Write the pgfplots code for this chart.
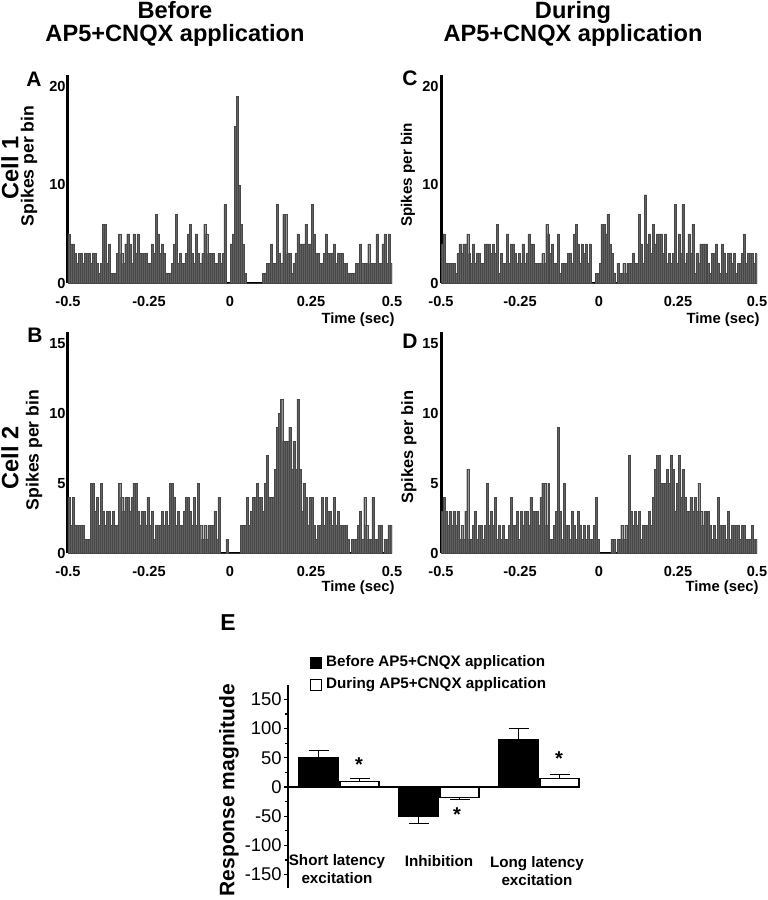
\documentclass[border=0pt]{standalone}
\usepackage{pgfplots}
\pgfplotsset{compat=1.18}
\usepackage{pgfplotstable}
\usepackage{fontspec}
\setmainfont{Liberation Sans}
\newcommand\fsz[1]{\fontsize{#1}{#1}\selectfont}

\pgfplotstableread[row sep=\\]{
y\\
5\\4\\4\\3\\2\\3\\3\\2\\3\\3\\
3\\2\\3\\3\\2\\1\\2\\6\\6\\2\\
4\\1\\1\\1\\3\\5\\3\\2\\4\\5\\
4\\2\\5\\3\\5\\3\\3\\3\\3\\2\\
2\\4\\3\\7\\5\\3\\4\\3\\1\\1\\
1\\2\\4\\7\\2\\3\\2\\2\\3\\5\\
6\\3\\2\\5\\3\\2\\3\\6\\5\\3\\
3\\3\\2\\2\\3\\2\\3\\8\\0\\0\\
4\\5\\16\\19\\10\\6\\4\\1\\0\\0\\
0\\0\\0\\0\\0\\0\\1\\1\\2\\2\\
4\\2\\2\\8\\3\\2\\7\\7\\3\\3\\
1\\2\\3\\5\\4\\4\\4\\6\\4\\4\\
8\\5\\3\\3\\2\\2\\3\\5\\3\\3\\
3\\4\\2\\3\\3\\3\\2\\2\\1\\1\\
1\\1\\2\\2\\4\\2\\2\\2\\4\\2\\
2\\2\\5\\2\\2\\4\\5\\2\\5\\2\\
0\\
}\dataA

\pgfplotstableread[row sep=\\]{
y\\
4\\5\\2\\2\\2\\2\\2\\1\\3\\4\\
3\\4\\4\\5\\3\\2\\4\\2\\3\\3\\
2\\2\\4\\4\\4\\3\\4\\3\\6\\1\\
3\\2\\2\\5\\2\\4\\4\\3\\2\\3\\
2\\4\\2\\3\\5\\4\\4\\2\\2\\2\\
2\\3\\2\\6\\5\\3\\4\\2\\2\\5\\
1\\2\\2\\2\\3\\3\\2\\5\\6\\4\\
2\\4\\3\\4\\2\\4\\0\\0\\1\\1\\
2\\6\\6\\5\\7\\4\\3\\1\\0\\2\\
1\\1\\2\\1\\2\\2\\2\\3\\2\\2\\
7\\4\\2\\9\\4\\5\\3\\6\\4\\5\\
5\\5\\3\\5\\2\\3\\2\\3\\8\\2\\
5\\3\\8\\2\\3\\5\\3\\6\\1\\3\\
2\\4\\4\\4\\4\\2\\1\\3\\3\\4\\
2\\1\\4\\3\\1\\3\\3\\2\\3\\1\\
2\\2\\3\\5\\2\\3\\3\\3\\2\\3\\
0\\
}\dataC

\pgfplotstableread[row sep=\\]{
y\\
4\\2\\4\\2\\2\\2\\2\\2\\1\\1\\
1\\5\\5\\3\\4\\2\\5\\3\\2\\3\\
3\\2\\3\\2\\2\\5\\4\\3\\4\\4\\
3\\4\\5\\5\\3\\2\\3\\3\\2\\4\\
2\\3\\1\\2\\2\\2\\3\\2\\3\\2\\
5\\5\\4\\2\\3\\2\\2\\3\\4\\4\\
3\\2\\4\\2\\5\\2\\1\\2\\1\\2\\
2\\2\\3\\1\\4\\0\\0\\0\\1\\0\\
0\\0\\0\\0\\0\\2\\2\\2\\4\\2\\
3\\4\\4\\5\\4\\4\\3\\5\\7\\4\\
4\\4\\6\\9\\10\\11\\8\\8\\8\\9\\
6\\8\\6\\11\\6\\3\\5\\4\\2\\4\\
4\\2\\1\\2\\2\\4\\2\\4\\3\\3\\
2\\4\\2\\3\\2\\2\\2\\2\\1\\0\\
1\\1\\1\\2\\3\\1\\4\\2\\1\\1\\
4\\1\\1\\2\\2\\0\\1\\1\\2\\2\\
0\\
}\dataB

\pgfplotstableread[row sep=\\]{
y\\
3\\4\\3\\2\\3\\2\\3\\2\\3\\1\\
2\\1\\3\\6\\1\\1\\2\\3\\1\\2\\
2\\1\\2\\5\\2\\3\\2\\4\\1\\2\\
1\\2\\1\\1\\2\\4\\2\\2\\3\\1\\
3\\2\\3\\3\\2\\4\\3\\3\\3\\2\\
4\\5\\5\\2\\5\\1\\1\\2\\3\\9\\
3\\1\\5\\2\\2\\1\\3\\2\\1\\3\\
2\\1\\2\\1\\2\\1\\1\\2\\4\\1\\
0\\0\\0\\0\\0\\0\\1\\1\\0\\1\\
1\\2\\1\\2\\1\\7\\3\\2\\3\\2\\
3\\1\\2\\2\\2\\3\\2\\4\\6\\7\\
7\\5\\5\\5\\6\\5\\7\\6\\3\\5\\
7\\4\\6\\4\\3\\3\\4\\3\\4\\3\\
5\\3\\2\\3\\3\\3\\2\\1\\2\\1\\
4\\2\\2\\2\\1\\3\\1\\2\\2\\2\\
2\\1\\2\\2\\1\\1\\1\\2\\1\\1\\
0\\
}\dataD

\pgfplotstableread{
x y ep em
0 50 13 0
1 -51 0 11
2 82 18 0
}\dataEbefore
\pgfplotstableread{
x y ep em
0 10 4 0
1 -18 0 4
2 15 6 0
}\dataEduring

\pgfplotsset{
  hist/.style={
    scale only axis, anchor=south west,
    xmin=-0.5, xmax=0.5, ymin=0,
    axis x line*=bottom, axis y line*=left,
    axis line style={-},
    x axis line style={line width=0.8pt,-},
    y axis line style={line width=1.5pt,-},
    xtick={-0.5,-0.25,0,0.25,0.5},
    xticklabels={-0.5,-0.25,0,0.25,0.5},
    major tick length=0pt,
    tick label style={font=\bfseries\fsz{7.3}},
    xticklabel style={anchor=base, yshift=-11.5pt},
    yticklabel style={anchor=east, inner xsep=1pt},
  },
  histbar/.style={ybar interval, fill=black!62, draw=black!72, line width=0.15pt},
}

\begin{document}
\begin{tikzpicture}
\path[use as bounding box] (0,0) rectangle (383.5pt,-450pt);

% Panel A
\begin{axis}[hist, at={(34pt,-141.5pt)}, width=162pt, height=104pt,
  ymax=21.2, ytick={0,10,20}, yticklabels={0,10,20}]
\addplot[histbar] table[x expr=\coordindex*0.00625-0.5, y=y] {\dataA};
\end{axis}

% Panel C
\begin{axis}[hist, at={(220.5pt,-141.5pt)}, width=158pt, height=104pt,
  ymax=21.2, ytick={0,10,20}, yticklabels={0,10,20}]
\addplot[histbar] table[x expr=\coordindex*0.00625-0.5, y=y] {\dataC};
\end{axis}

% Panel B
\begin{axis}[hist, at={(34pt,-276.5pt)}, width=162pt, height=110.5pt,
  ymax=15.8, ytick={0,5,10,15}, yticklabels={0,5,10,15}]
\addplot[histbar] table[x expr=\coordindex*0.00625-0.5, y=y] {\dataB};
\end{axis}

% Panel D
\begin{axis}[hist, at={(220.5pt,-276.5pt)}, width=158pt, height=110.5pt,
  ymax=15.8, ytick={0,5,10,15}, yticklabels={0,5,10,15}]
\addplot[histbar] table[x expr=\coordindex*0.00625-0.5, y=y] {\dataD};
\end{axis}

% Panel E
\begin{axis}[scale only axis, anchor=south west, at={(144pt,-444pt)},
  width=146pt, height=101.5pt,
  xmin=-0.51, xmax=2.41, ymin=-172.9, ymax=174.7,
  axis y line*=left, axis x line=none,
  axis line style={-},
  y axis line style={line width=0.9pt,-},
  ytick={-150,-100,-50,0,50,100,150},
  yticklabels={-150,-100,-50,0,50,100,150},
  minor y tick num=1,
  tick align=outside, major tick length=2pt, minor tick length=1.5pt,
  tick style={black, line width=0.6pt},
  yticklabel style={font=\fsz{9.2}, anchor=east, inner xsep=1pt},
  ybar, bar width=0.39,
  legend style={at={(axis description cs:0.075,1.165)}, anchor=north west,
    draw=none, fill=none, font=\bfseries\fontsize{7.6}{9}\selectfont,
    row sep=0pt, inner sep=0pt, legend cell align=left},
  legend image code/.code={\draw[#1, line width=0.5pt] (0pt,-2.7pt) rectangle (5.4pt,2.7pt);},
  clip=false,
]
\addplot[fill=black, draw=black, line width=0.6pt, bar shift=-0.205,
  error bars/.cd, y dir=both, y explicit,
  error bar style={line width=0.6pt, black},
  error mark options={rotate=90, mark size=5pt, line width=0.6pt, black}]
  table[x=x, y=y, y error plus=ep, y error minus=em] {\dataEbefore};
\addlegendentry{Before AP5+CNQX application}
\addplot[fill=white, draw=black, line width=0.6pt, bar shift=0.205,
  error bars/.cd, y dir=both, y explicit,
  error bar style={line width=0.6pt, black},
  error mark options={rotate=90, mark size=5pt, line width=0.6pt, black}]
  table[x=x, y=y, y error plus=ep, y error minus=em] {\dataEduring};
\addlegendentry{During AP5+CNQX application}
\draw[line width=1pt] (axis cs:-0.51,0) -- (axis cs:2.41,0);
\node[font=\bfseries\fsz{10}] at (axis cs:0.2,37.7) {*};
\node[font=\bfseries\fsz{10}] at (axis cs:1.18,-48) {*};
\node[font=\bfseries\fsz{10}] at (axis cs:2.2,48) {*};
\node[align=center, font=\bfseries\fontsize{7.6}{9}\selectfont] at (axis cs:-0.02,-140) {Short latency\\excitation};
\node[font=\bfseries\fontsize{7.6}{9}\selectfont] at (axis cs:1.0,-127) {Inhibition};
\node[align=center, font=\bfseries\fontsize{7.6}{9}\selectfont] at (axis cs:1.98,-144) {Long latency\\excitation};
\end{axis}

% Titles and labels
\node[align=center, font=\bfseries\fontsize{11.8}{11.5}\selectfont] at (87.5pt,-11.75pt) {Before\\AP5+CNQX application};
\node[align=center, font=\bfseries\fontsize{11.8}{11.5}\selectfont] at (286.5pt,-11.75pt) {During\\AP5+CNQX application};

\node[font=\bfseries\fsz{10.5}] at (17pt,-39.5pt) {A};
\node[font=\bfseries\fsz{10.5}] at (205pt,-39pt) {C};
\node[font=\bfseries\fsz{10.5}] at (17.5pt,-167.5pt) {B};
\node[font=\bfseries\fsz{10.5}] at (205pt,-170.5pt) {D};
\node[font=\bfseries\fsz{11.5}] at (114pt,-311.5pt) {E};

\node[rotate=90, font=\bfseries\fsz{11.8}] at (5pt,-84pt) {Cell 1};
\node[rotate=90, font=\bfseries\fsz{11.8}] at (5pt,-229pt) {Cell 2};

\node[rotate=90, font=\bfseries\fsz{8.8}] at (14.5pt,-83pt) {Spikes per bin};
\node[rotate=90, font=\bfseries\fsz{8.8}] at (17pt,-225pt) {Spikes per bin};
\node[rotate=90, font=\bfseries\fsz{7.6}] at (204pt,-87.5pt) {Spikes per bin};
\node[rotate=90, font=\bfseries\fsz{8.2}] at (204.5pt,-223.5pt) {Spikes per bin};

\node[font=\bfseries\fsz{7.4}] at (179pt,-160pt) {Time (sec)};
\node[font=\bfseries\fsz{7.4}] at (361.5pt,-160pt) {Time (sec)};
\node[font=\bfseries\fsz{7.4}] at (179pt,-294pt) {Time (sec)};
\node[font=\bfseries\fsz{7.4}] at (361pt,-294pt) {Time (sec)};

\node[rotate=90, font=\bfseries\fsz{10.5}] at (114.5pt,-395pt) {Response magnitude};
\end{tikzpicture}
\end{document}
